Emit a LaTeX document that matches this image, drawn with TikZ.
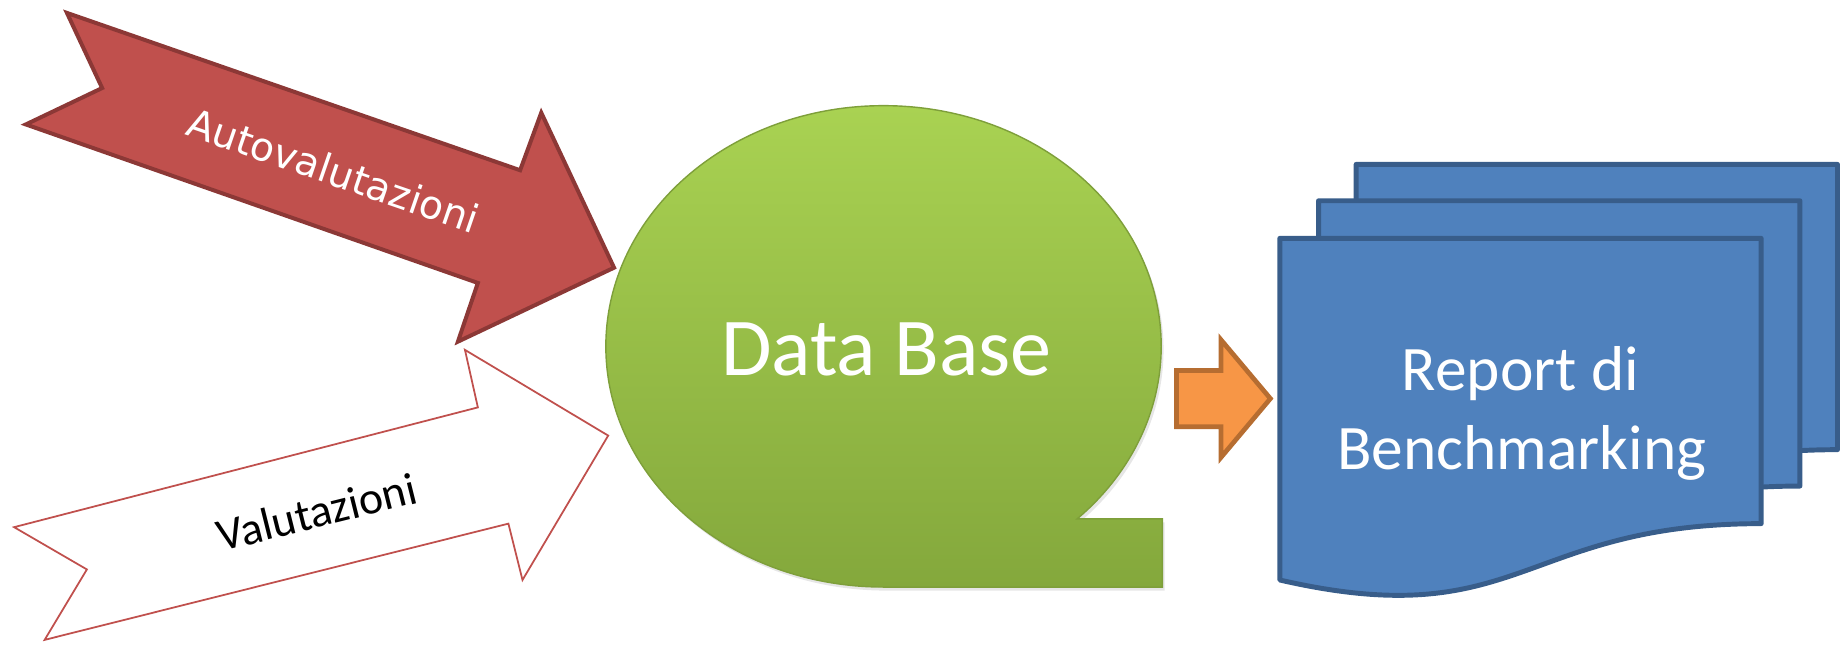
\documentclass[tikz,border=0pt]{standalone}
\usepackage{fontspec}
\setmainfont{Carlito}
\newfontfamily\dejavu{DejaVu Sans}
\usetikzlibrary{shadows}
\definecolor{redfill}{HTML}{C0504D}
\definecolor{redline}{HTML}{8C3836}
\definecolor{orfill}{HTML}{F79646}
\definecolor{orline}{HTML}{B66D31}
\definecolor{bluefill}{HTML}{4F81BD}
\definecolor{blueline}{HTML}{385D8A}
\definecolor{greentop}{HTML}{A9D252}
\definecolor{greenbot}{HTML}{84A83C}
\definecolor{greenline}{HTML}{7E9F3A}
\tikzset{
  redarrow/.style={fill=redfill, draw=redline, line width=3.4pt, line join=miter},
  whitearrow/.style={fill=white, draw=redfill, line width=1.5pt, line join=miter},
  orarrow/.style={fill=orfill, draw=orline, line width=4pt, line join=miter},
  docshape/.style={fill=bluefill, draw=blueline, line width=4.2pt, line join=round},
  dbshape/.style={top color=greentop, bottom color=greenbot, draw=greenline, line width=1.2pt,
    drop shadow={opacity=0.2, shadow xshift=2pt, shadow yshift=-3pt}},
  lbl/.style={inner sep=0pt, anchor=base}
}
\begin{document}
\begin{tikzpicture}[x=1pt,y=1pt]
\useasboundingbox (0,0) rectangle (1568,553);
% Data Base shape (sequential access storage)
\path[dbshape] (752.5,53) arc[start angle=270, end angle=-45.8, x radius=236.5, y radius=205]
  -- (990,111) -- (990,53) -- cycle;
% red arrow
\draw[redarrow] (57,542) -- (87,478) -- (22,447) -- (407,312) -- (390,262) -- (523,325)
  -- (461,457) -- (443,408) -- cycle;
% white arrow
\draw[whitearrow] (396,255) -- (407,206) -- (12,104) -- (74,68) -- (38,8) -- (433,107)
  -- (445,59) -- (518,182) -- cycle;
% orange arrow
\draw[orarrow] (1002,237.5) -- (1040,237.5) -- (1040,263.5) -- (1082,213.5) -- (1040,163.5)
  -- (1040,189.5) -- (1002,189.5) -- cycle;
% documents
\foreach \dx/\dy in {65/63, 33/32, 0/0}{
  \draw[docshape, shift={(\dx,\dy)}] (1090,350) -- (1500,350) -- (1500,107)
    .. controls (1295,107) and (1295,12) .. (1090,59) -- cycle;
}
% texts
\node[lbl, text=white, rotate=-19] (auto) at (280,396) {\dejavu\fontsize{33.5}{40}\selectfont Autovalutazioni};
\node[lbl, text=black, rotate=14] (val) at (273,104) {\fontsize{39}{47}\selectfont Valutazioni};
\node[lbl, text=white] (db) at (755,233.5) {\fontsize{70}{84}\selectfont Data Base};
\node[lbl, text=white] (rep1) at (1295,220) {\fontsize{54}{66}\selectfont Report di};
\node[lbl, text=white] (rep2) at (1296,153.4) {\fontsize{54}{66}\selectfont Benchmarking};
\end{tikzpicture}
\end{document}
